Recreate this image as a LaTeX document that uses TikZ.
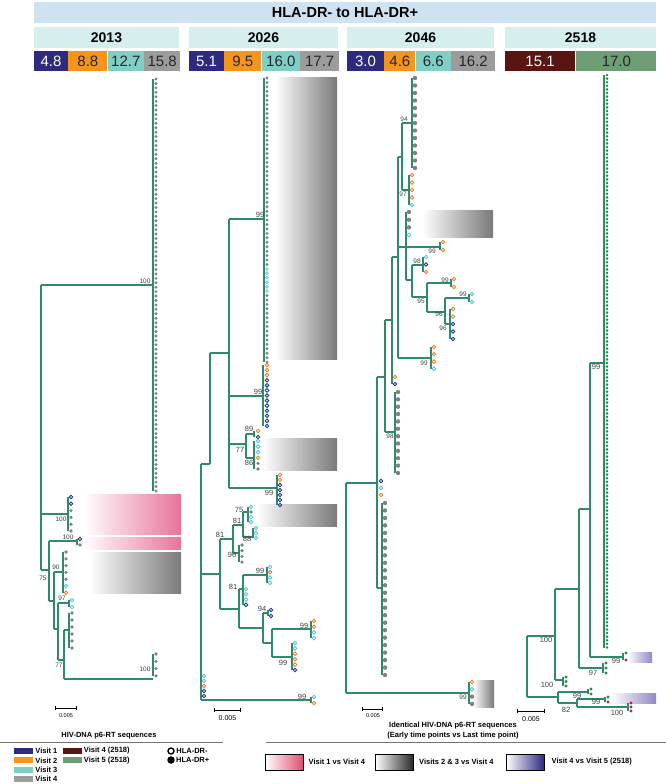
\documentclass[tikz,border=0pt]{standalone}
\usepackage{fontspec}
\setmainfont{Liberation Sans}
\usepackage{xcolor}
\usepackage{tikz}
\usetikzlibrary{arrows.meta,positioning}

\definecolor{hdrblue}{HTML}{CEE2F1}
\definecolor{yearbg}{HTML}{D5EFEE}
\definecolor{visA}{HTML}{2E2A80}
\definecolor{visB}{HTML}{F7941D}
\definecolor{visC}{HTML}{7FCFC7}
\definecolor{visD}{HTML}{9C9C9C}
\definecolor{visDb}{HTML}{5A1512}
\definecolor{visEb}{HTML}{6D9E76}
\definecolor{branch}{HTML}{2E8A6C}
\definecolor{tipgray}{HTML}{808080}
\definecolor{tipnavy}{HTML}{1F3A85}
\definecolor{tiporange}{HTML}{EF7F32}
\definecolor{tipcyan}{HTML}{5EC4DA}
\definecolor{tipgreen}{HTML}{1E8B3E}
\definecolor{tipred}{HTML}{B5283C}
\definecolor{shpink}{HTML}{E8739A}
\definecolor{shgray}{HTML}{7A7A7A}
\definecolor{shpurple}{HTML}{9089C5}
\definecolor{legpink}{HTML}{E04E72}
\definecolor{legpurple}{HTML}{2F2A84}

\newcommand{\dotrun}[5]{\foreach \i in {1,...,#4}{\path[#5] (#1,{#2+(\i-1)*#3}) circle;}}
\newcommand{\tipcol}[4]{\foreach \k [count=\i from 0] in {#4}{\path[\k] (#1,{#2+\i*#3}) circle;}}

\begin{document}
\begin{tikzpicture}[
  x=1pt, y=-1pt,
  hdr/.style={rectangle, fill=hdrblue, minimum width=622pt, minimum height=21pt, inner sep=0pt, font=\fontsize{14.5}{15}\selectfont\bfseries},
  yearbox/.style={rectangle, fill=yearbg, minimum height=21pt, inner sep=0pt, font=\fontsize{14}{15}\selectfont\bfseries},
  timecell/.style={rectangle, minimum height=20pt, inner sep=0pt, text=black!85, font=\fontsize{15}{15}\selectfont},
  br/.style={draw=branch, line width=1.1pt},
  gsm/.style={fill=tipgray, radius=1.6},
  gdot/.style={fill=tipgray, radius=1.8},
  gbig/.style={fill=tipgray, radius=2.2},
  csm/.style={draw=tipcyan, line width=.7pt, radius=1.4},
  ocir/.style={draw=tiporange, line width=.9pt, radius=1.8},
  bcir/.style={draw=tipnavy, line width=.9pt, radius=1.8},
  ccir/.style={draw=tipcyan, line width=.9pt, radius=1.8},
  Gsm/.style={fill=tipgreen, radius=1.4},
  Gdot/.style={fill=tipgreen, radius=1.6},
  Rdot/.style={fill=tipred, radius=1.6},
  boot/.style={font=\fontsize{6.5}{7}\selectfont, text=black!75, inner sep=0pt},
  bootL/.style={font=\fontsize{7.5}{8}\selectfont, text=black!75, inner sep=0pt},
  scl/.style={font=\fontsize{5.5}{6}\selectfont, inner sep=0pt},
  sclL/.style={font=\fontsize{7}{8}\selectfont, inner sep=0pt},
  scalebar/.style={draw=black, line width=1pt, {Bar[width=4pt]}-{Bar[width=4pt]}},
  rule/.style={draw=black!55, line width=1pt},
  legtxt/.style={font=\fontsize{7.5}{8}\selectfont\bfseries, inner sep=0pt},
  swatch/.style={rectangle, minimum width=19pt, minimum height=6pt, inner sep=0pt},
  keybox/.style={rectangle, draw=black, line width=1pt, left color=white, minimum width=38pt, minimum height=16pt, inner sep=0pt}
]
\useasboundingbox (0,0) rectangle (666,784);

\node[hdr] (Title) at (345,12.5) {HLA-DR- to HLA-DR+};
\node[yearbox, minimum width=145pt] (Y2013) at (106.5,37.5) {2013};
\node[yearbox, minimum width=149pt] (Y2026) at (263.5,37.5) {2026};
\node[yearbox, minimum width=147pt] (Y2046) at (420.5,37.5) {2046};
\node[yearbox, minimum width=151pt] (Y2518) at (580.5,37.5) {2518};

\node[timecell, fill=visA, text=white, minimum width=34pt] (T13a) at (51,61) {4.8};
\node[timecell, fill=visB, minimum width=39pt, right=0pt of T13a] (T13b) {8.8};
\node[timecell, fill=visC, minimum width=36pt, right=0pt of T13b] (T13c) {12.7};
\node[timecell, fill=visD, minimum width=36pt, right=0pt of T13c] (T13d) {15.8};
\node[timecell, fill=visA, text=white, minimum width=35pt] (T26a) at (206.5,61) {5.1};
\node[timecell, fill=visB, minimum width=37pt, right=0pt of T26a] (T26b) {9.5};
\node[timecell, fill=visC, minimum width=38pt, right=0pt of T26b] (T26c) {16.0};
\node[timecell, fill=visD, minimum width=39pt, right=0pt of T26c] (T26d) {17.7};
\node[timecell, fill=visA, text=white, minimum width=37pt] (T46a) at (365.5,61) {3.0};
\node[timecell, fill=visB, minimum width=31pt, right=0pt of T46a] (T46b) {4.6};
\node[timecell, fill=visC, minimum width=35pt, right=0pt of T46b] (T46c) {6.6};
\node[timecell, fill=visD, minimum width=44pt, right=0pt of T46c] (T46d) {16.2};
\node[timecell, fill=visDb, text=white, minimum width=70pt] (T18a) at (540,61) {15.1};
\node[timecell, fill=visEb, minimum width=80pt, right=1pt of T18a] (T18b) {17.0};

\shade[left color=white, right color=shpink] (83,494) rectangle (181,534);
\shade[left color=white, right color=shpink] (83,537) rectangle (181,549);
\shade[left color=white, right color=shgray] (89,552) rectangle (181,593);
\draw[br] (41,285) -- (41,570) (41,285) -- (153,285) (153,79) -- (153,491);
\draw[br] (41,514) -- (68,514) (68,497) -- (68,531);
\draw[br] (41,570) -- (49,570) (49,541) -- (49,601) (49,541) -- (77,541) (77,539) -- (77,545);
\draw[br] (49,601) -- (54,601) (54,572) -- (54,629) (54,572) -- (63,572) (63,552) -- (63,593);
\draw[br] (54,629) -- (58,629) (58,603) -- (58,660) (58,603) -- (69,603) (69,600) -- (69,607);
\draw[br] (58,660) -- (64,660) (64,630) -- (64,679) (64,630) -- (69,630) (69,613) -- (69,648);
\draw[br] (64,679) -- (153,679) (153,654) -- (153,676);
\dotrun{156}{79}{4.43}{94}{gsm}
\tipcol{71}{497}{6.8}{bcir,bcir,gdot,gdot,gdot,gdot}
\tipcol{80}{539}{6}{bcir,gdot}
\tipcol{66}{552}{6.8}{gdot,gdot,gdot,gdot,gdot,ccir,ocir}
\tipcol{72}{600}{7}{ccir,ccir}
\dotrun{72}{613}{7}{6}{gdot}
\dotrun{156}{654}{7.3}{4}{gdot}
\node[boot] (B13a) at (145,281) {100};
\node[boot] (B13b) at (61,519) {100};
\node[boot] (B13c) at (43,578) {75};
\node[boot] (B13d) at (68,537) {100};
\node[boot] (B13e) at (56,567) {90};
\node[boot] (B13f) at (62,598) {97};
\node[boot] (B13g) at (59,665) {77};
\node[boot] (B13h) at (145,669) {100};

\shade[left color=white, right color=shgray] (275,77) rectangle (337,359);
\shade[left color=white, right color=shgray] (262,438) rectangle (337,470);
\shade[left color=white, right color=shgray] (257,504) rectangle (337,526);
\draw[br] (201,464) -- (201,700) (201,464) -- (210,464) (210,353) -- (210,464) (210,353) -- (229,353);
\draw[br] (229,219) -- (229,488) (229,219) -- (264,219) (264,78) -- (264,362);
\draw[br] (229,396) -- (263,396) (263,365) -- (263,426);
\draw[br] (229,444) -- (246,444) (246,434) -- (246,458) (246,434) -- (254,434) (254,431) -- (254,437) (246,458) -- (254,458) (254,441) -- (254,469);
\draw[br] (229,488) -- (277,488) (277,475) -- (277,505);
\draw[br] (201,574) -- (220,574) (220,539) -- (220,609) (220,539) -- (233,539) (233,525) -- (233,553);
\draw[br] (233,525) -- (243,525) (243,512) -- (243,537) (243,512) -- (248,512) (248,507) -- (248,522) (243,537) -- (253,537) (253,528) -- (253,538);
\draw[br] (233,553) -- (239,553) (239,545) -- (239,562);
\draw[br] (220,609) -- (239,609) (239,589) -- (239,628) (239,589) -- (243,589) (243,575) -- (243,605) (243,575) -- (267,575) (267,567) -- (267,583);
\draw[br] (239,628) -- (263,628) (263,613) -- (263,643) (263,613) -- (268,613) (268,610) -- (268,616);
\draw[br] (263,643) -- (272,643) (272,629) -- (272,657) (272,629) -- (311,629) (311,621) -- (311,638) (272,657) -- (292,657) (292,643) -- (292,670);
\draw[br] (201,700) -- (311,700) (311,697) -- (311,703);
\dotrun{267}{78}{4.44}{43}{gsm}
\dotrun{267}{268.9}{4.44}{6}{csm}
\dotrun{267}{295.5}{4.44}{16}{gsm}
\tipcol{267}{365}{5.08}{ocir,ocir,ocir,bcir,bcir,bcir,bcir,bcir,bcir,bcir,bcir,bcir,bcir}
\tipcol{258}{431}{6}{ocir,bcir}
\tipcol{258}{441}{5.6}{ccir,ccir,ccir,ocir,gdot,gdot}
\tipcol{280}{475}{5}{ocir,ocir,bcir,bcir,bcir,bcir,bcir}
\tipcol{251}{507}{5}{ccir,gdot,ccir,ccir}
\tipcol{256}{528}{5}{ccir,ccir,ccir}
\tipcol{242}{545}{5.7}{gdot,gdot,gdot,gdot}
\tipcol{270}{567}{5.3}{ccir,ocir,ccir,ccir}
\tipcol{246}{589}{5.3}{ccir,ccir,ccir,bcir}
\tipcol{271}{610}{6}{bcir,bcir}
\tipcol{314}{621}{5.7}{ocir,ocir,ccir,ccir}
\tipcol{295}{643}{5.4}{ccir,ccir,ocir,ocir,ocir,bcir}
\tipcol{204}{676}{5}{ccir,ccir,ocir,bcir,bcir}
\tipcol{314}{697}{6}{ccir,ocir}
\node[bootL] (B26a) at (260,215) {99};
\node[bootL] (B26b) at (258,392) {99};
\node[bootL] (B26c) at (249,429) {89};
\node[bootL] (B26d) at (240,450) {77};
\node[bootL] (B26e) at (249,463) {86};
\node[bootL] (B26f) at (269,493) {99};
\node[bootL] (B26g) at (239,510) {75};
\node[bootL] (B26h) at (237,521) {81};
\node[bootL] (B26i) at (247,539) {88};
\node[bootL] (B26j) at (220,535) {81};
\node[bootL] (B26k) at (232,555) {96};
\node[bootL] (B26l) at (260,571) {99};
\node[bootL] (B26m) at (233,587) {81};
\node[bootL] (B26n) at (262,609) {94};
\node[bootL] (B26o) at (304,626) {99};
\node[bootL] (B26p) at (283,663) {99};
\node[bootL] (B26q) at (302,697) {99};

\shade[left color=white, right color=shgray] (422,210) rectangle (493,237);
\shade[left color=white, right color=shgray] (473,680) rectangle (494,707);
\draw[br] (346,483) -- (346,693) (346,483) -- (377,483) (377,377) -- (377,588) (377,377) -- (385,377);
\draw[br] (385,320) -- (385,432) (385,320) -- (392,320) (392,257) -- (392,384) (392,257) -- (398,257);
\draw[br] (398,157) -- (398,358) (398,157) -- (402,157) (402,123) -- (402,190);
\draw[br] (402,123) -- (412,123) (412,78) -- (412,168) (402,190) -- (409,190) (409,175) -- (409,205);
\draw[br] (398,247) -- (440,247) (440,242) -- (440,250) (406,212) -- (406,280);
\draw[br] (406,280) -- (412,280) (412,265) -- (412,297) (412,265) -- (423,265) (423,257) -- (423,272);
\draw[br] (412,297) -- (427,297) (427,283) -- (427,312) (427,283) -- (451,283) (451,279) -- (451,287);
\draw[br] (427,312) -- (445,312) (445,298) -- (445,324) (445,298) -- (469,298) (469,294) -- (469,302) (445,324) -- (450,324) (450,309) -- (450,339);
\draw[br] (398,358) -- (431,358) (431,347) -- (431,369);
\draw[br] (385,432) -- (395,432) (395,392) -- (395,473);
\draw[br] (377,588) -- (382,588) (382,503) -- (382,675);
\draw[br] (346,693) -- (469,693) (469,682) -- (469,704);
\dotrun{415}{78}{7.5}{13}{gbig}
\tipcol{412}{175}{7.5}{ocir,ocir,ocir,ocir,ccir}
\tipcol{443}{242}{8}{ocir,ocir}
\tipcol{409}{212}{7.7}{gbig,gbig,gbig,ccir}
\tipcol{426}{257}{7.5}{ccir,bcir,ocir}
\tipcol{454}{279}{8}{ocir,ocir}
\tipcol{472}{294}{8}{ccir,ccir}
\tipcol{453}{309}{7.5}{ocir,ocir,bcir,bcir,bcir}
\tipcol{434}{347}{7.3}{ocir,ocir,ocir,ccir}
\tipcol{395}{377}{7}{ocir,bcir}
\dotrun{398}{392}{7.36}{12}{gbig}
\tipcol{381}{481}{7}{bcir,ccir,ocir}
\dotrun{385}{503}{7.48}{24}{gbig}
\tipcol{472}{682}{7.3}{ocir,ccir,gbig,gbig}
\node[boot] (B46a) at (404,119) {94};
\node[boot] (B46b) at (403,194) {97};
\node[boot] (B46c) at (432,251) {99};
\node[boot] (B46d) at (417,261) {98};
\node[boot] (B46e) at (445,280) {99};
\node[boot] (B46f) at (421,301) {95};
\node[boot] (B46g) at (463,294) {99};
\node[boot] (B46h) at (439,314) {96};
\node[boot] (B46i) at (443,328) {96};
\node[boot] (B46j) at (424,363) {99};
\node[boot] (B46k) at (390,436) {98};
\node[boot] (B46l) at (463,697) {99};

\shade[left color=white, right color=shpurple] (627,652) rectangle (652,662);
\shade[left color=white, right color=shpurple] (611,693) rectangle (656,703);
\draw[br] (604,75) -- (604,648) (590,363) -- (604,363) (590,363) -- (590,657) (590,657) -- (623,657) (623,653) -- (623,660);
\draw[br] (579,509) -- (590,509) (579,509) -- (579,668) (579,668) -- (603,668) (603,663) -- (603,673);
\draw[br] (555,589) -- (579,589) (555,589) -- (555,680) (555,680) -- (563,680) (563,677) -- (563,686);
\draw[br] (527,636) -- (555,636) (527,636) -- (527,697) (527,697) -- (558,697) (558,692) -- (558,703) (558,692) -- (588,692) (588,689) -- (588,694);
\draw[br] (558,703) -- (577,703) (577,699) -- (577,707) (577,699) -- (605,699) (605,697) -- (605,702) (577,707) -- (628,707) (628,703) -- (628,711);
\dotrun{607}{75}{3.6}{160}{Gsm}
\tipcol{626}{653}{7}{Gdot,Rdot}
\tipcol{606}{663}{5}{Gdot,Gdot,Gdot}
\tipcol{566}{677}{4.5}{Gdot,Gdot,Gdot}
\tipcol{591}{689}{5}{Gdot,Gdot}
\tipcol{608}{697}{5}{Gdot,Rdot}
\tipcol{631}{703}{4}{Rdot,Rdot,Rdot}
\node[bootL] (B18a) at (596,367) {99};
\node[bootL] (B18b) at (616,661) {99};
\node[bootL] (B18c) at (593,673) {97};
\node[bootL] (B18d) at (546,640) {100};
\node[bootL] (B18e) at (547,685) {100};
\node[bootL] (B18f) at (577,696) {99};
\node[bootL] (B18g) at (596,702) {99};
\node[bootL] (B18h) at (566,710) {82};
\node[bootL] (B18i) at (617,713) {100};

\draw[scalebar] (55,708) -- (77,708);
\node[scl] (S13) at (66,716) {0.005};
\draw[scalebar] (214,710) -- (241,710);
\node[sclL] (S26) at (227.5,718) {0.005};
\draw[scalebar] (362,709) -- (383,709);
\node[scl] (S46) at (373,716) {0.005};
\draw[scalebar] (517,711) -- (545,711);
\node[sclL] (S18) at (531,719) {0.005};

\node[legtxt] (SeqTitle) at (109,736) {HIV-DNA p6-RT sequences};
\draw[rule] (0,742) -- (223,742);
\node[legtxt] (IdTitle) at (453,726) {Identical HIV-DNA p6-RT sequences};
\node[legtxt, below=2pt of IdTitle] (IdSub) {(Early time points vs Last time point)};
\draw[rule] (266,742) -- (666,742);

\node[swatch, fill=visA] (SwA) at (23.5,751) {};
\node[swatch, fill=visB, below=3pt of SwA] (SwB) {};
\node[swatch, fill=visC, below=3pt of SwB] (SwC) {};
\node[swatch, fill=visD, below=3pt of SwC] (SwD) {};
\node[legtxt, right=2pt of SwA] {Visit 1};
\node[legtxt, right=2pt of SwB] {Visit 2};
\node[legtxt, right=2pt of SwC] {Visit 3};
\node[legtxt, right=2pt of SwD] {Visit 4};
\node[swatch, fill=visDb] (SwE) at (72,751) {};
\node[swatch, fill=visEb, below=3pt of SwE] (SwF) {};
\node[legtxt, right=2pt of SwE] {Visit 4 (2518)};
\node[legtxt, right=2pt of SwF] {Visit 5 (2518)};
\node[circle, draw=black, line width=1.4pt, minimum size=6pt, inner sep=0pt] (DrNeg) at (171,751) {};
\node[circle, fill=black, minimum size=7.5pt, inner sep=0pt] (DrPos) at (171,760) {};
\node[legtxt, right=1.5pt of DrNeg] {HLA-DR-};
\node[legtxt, right=1pt of DrPos] {HLA-DR+};

\node[keybox, right color=legpink] (KeyA) at (284,762) {};
\node[keybox, right color=black!85] (KeyB) at (394.5,762) {};
\node[keybox, right color=legpurple] (KeyC) at (525,762) {};
\node[legtxt, right=5pt of KeyA] {Visit 1 vs Visit 4};
\node[legtxt, right=5pt of KeyB] {Visits 2 \& 3 vs Visit 4};
\node[legtxt, right=7pt of KeyC] {Visit 4 vs Visit 5 (2518)};
\end{tikzpicture}
\end{document}
